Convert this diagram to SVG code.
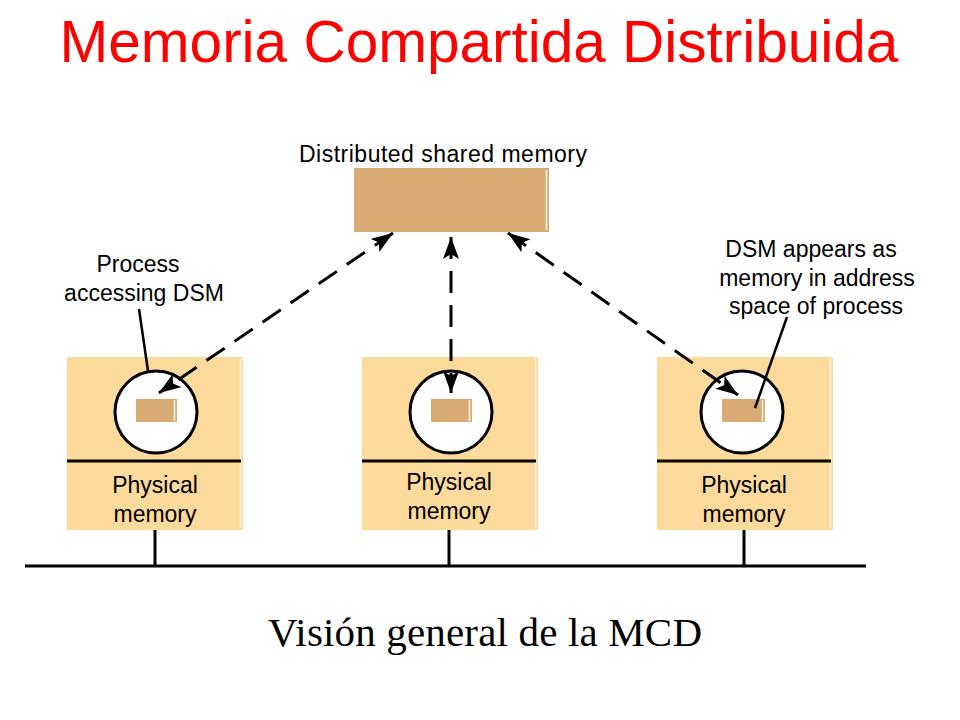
<svg xmlns="http://www.w3.org/2000/svg" width="960" height="720" viewBox="0 0 960 720">
<style>
.t{font-family:"Liberation Sans",Arial,sans-serif;font-size:23px;fill:#000}
.c{text-anchor:middle}
.box{fill:#FCDA9C}
.dsm{fill:#D8AA74}
.hl{stroke:#FFF4E0;stroke-width:1.5}
.blk{stroke:#000;stroke-width:3;fill:none}
.circ{fill:#fff;stroke:#000;stroke-width:3}
.dash{stroke:#000;stroke-width:3;fill:none;stroke-dasharray:22 12}
.ptr{stroke:#000;stroke-width:2.5;fill:none}
</style>
<defs>
<marker id="ah" markerUnits="userSpaceOnUse" markerWidth="24" markerHeight="18" refX="22" refY="8" orient="auto-start-reverse">
<path d="M0,0 L22,8 L0,16 L5,8 z" fill="#000"/>
</marker>
</defs>
<rect width="960" height="720" fill="#fff"/>
<text x="479" y="62" font-family="Liberation Sans,Arial,sans-serif" font-size="58.5" fill="#FF0000" text-anchor="middle">Memoria Compartida Distribuida</text>

<g id="dsm">
<text class="t c" x="443" y="162" textLength="288">Distributed shared memory</text>
<rect class="dsm" x="354" y="168" width="195" height="64"/>
<line class="hl" x1="546.5" y1="170" x2="546.5" y2="230"/>
</g>

<g id="node1">
<rect class="box" x="67" y="357" width="176" height="173"/>
<line class="hl" x1="240.5" y1="359" x2="240.5" y2="528"/>
<line class="blk" x1="67" y1="461" x2="241" y2="461"/>
<circle class="circ" cx="156" cy="412" r="41"/>
<rect class="dsm" x="136" y="399" width="41" height="23"/>
<line class="hl" x1="174.5" y1="400" x2="174.5" y2="421"/>
<text class="t c" x="155" y="493">Physical</text>
<text class="t c" x="155" y="522">memory</text>
</g>

<g id="node2">
<rect class="box" x="362" y="357" width="176" height="173"/>
<line class="hl" x1="535.5" y1="359" x2="535.5" y2="528"/>
<line class="blk" x1="362" y1="461" x2="536" y2="461"/>
<circle class="circ" cx="451" cy="412" r="41"/>
<rect class="dsm" x="431" y="399" width="41" height="23"/>
<line class="hl" x1="469.5" y1="400" x2="469.5" y2="421"/>
<text class="t c" x="449" y="490">Physical</text>
<text class="t c" x="449" y="519">memory</text>
</g>

<g id="node3">
<rect class="box" x="657" y="357" width="176" height="173"/>
<line class="hl" x1="830.5" y1="359" x2="830.5" y2="528"/>
<line class="blk" x1="657" y1="461" x2="831" y2="461"/>
<circle class="circ" cx="742" cy="412" r="41"/>
<rect class="dsm" x="722" y="399" width="43" height="23"/>
<line class="hl" x1="762.5" y1="400" x2="762.5" y2="421"/>
<text class="t c" x="744" y="493">Physical</text>
<text class="t c" x="744" y="522">memory</text>
</g>

<g id="bus">
<line x1="25" y1="566" x2="866" y2="566" stroke="#000" stroke-width="3"/>
<line class="blk" x1="155" y1="530" x2="155" y2="566"/>
<line class="blk" x1="449" y1="530" x2="449" y2="566"/>
<line class="blk" x1="744" y1="530" x2="744" y2="566"/>
</g>

<g id="label-process">
<text class="t c" x="138" y="272">Process</text>
<text class="t c" x="144" y="301">accessing DSM</text>
</g>

<g id="label-dsm">
<text class="t c" x="811" y="257">DSM appears as</text>
<text class="t c" x="817" y="286">memory in address</text>
<text class="t c" x="816" y="314">space of process</text>
</g>

<g id="connectors">
<line class="dash" x1="393" y1="233" x2="159" y2="393" marker-start="url(#ah)" marker-end="url(#ah)"/>
<line class="dash" x1="451" y1="237" x2="451" y2="393" marker-start="url(#ah)" marker-end="url(#ah)"/>
<line class="dash" x1="508" y1="233" x2="738" y2="395" marker-start="url(#ah)" marker-end="url(#ah)"/>
<line class="ptr" x1="139" y1="309" x2="148" y2="371"/>
<line class="ptr" x1="787" y1="317" x2="755" y2="408"/>
</g>

<text x="268" y="646" font-family="Liberation Serif,'Times New Roman',serif" font-size="41" fill="#000" textLength="434">Visión general de la MCD</text>
</svg>
